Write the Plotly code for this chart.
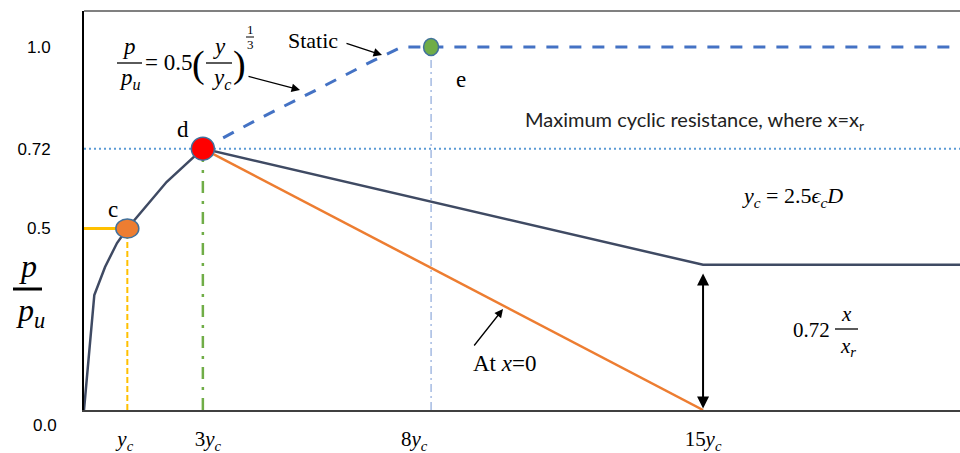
import plotly.graph_objects as go

# ---------------- data (x in units of y_c, y = p/p_u) ----------------
cyclic_x = [0.0, 0.25, 0.51, 0.80, 1.05, 2.0, 2.88, 15.0, 21.3]
cyclic_y = [0.0, 0.317, 0.394, 0.46, 0.50, 0.628, 0.72, 0.40, 0.40]

zero_x = [2.88, 15.0]
zero_y = [0.72, 0.0]

static_x = [2.88, 4.2, 5.6, 7.0, 7.7, 21.3]
static_y = [0.72, 0.80, 0.88, 0.962, 1.0, 1.0]

point_names = ["c", "d", "e"]
point_x = [1.05, 2.88, 8.41]
point_y = [0.50, 0.72, 1.00]

x_tick_vals = [1, 3, 8, 15]
x_tick_text = ["<i>y<sub>c</sub></i>", "3<i>y<sub>c</sub></i>",
               "8<i>y<sub>c</sub></i>", "15<i>y<sub>c</sub></i>"]
y_tick_vals = [0.5, 0.72, 1.0]
y_tick_text = ["0.5", "0.72", "1.0"]

# ---------------- layout geometry ----------------
W, H = 960, 453
ML, MR, MT, MB = 84, 0, 11, 43
PW, PH = W - ML - MR, H - MT - MB
XMAX = 21.226
YMAX = 1.0992

def px(p):  # pixel x -> paper
    return (p - ML) / PW

def py(p):  # pixel y -> paper
    return (H - MB - p) / PH

def dx(p):  # pixel x -> data
    return (p - ML) / PW * XMAX

def dy(p):  # pixel y -> data
    return (H - MB - p) / PH * YMAX

SERIF = "Liberation Serif"
SANS = "Liberation Sans"

fig = go.Figure()

# guide lines
fig.add_trace(go.Scatter(x=[0, XMAX], y=[point_y[1], point_y[1]], mode="lines",
                         line=dict(color="#5B9BD5", width=2, dash="2px,3px"),
                         hoverinfo="skip"))
fig.add_trace(go.Scatter(x=[0, point_x[0]], y=[point_y[0], point_y[0]], mode="lines",
                         line=dict(color="#FFC000", width=3), hoverinfo="skip"))
fig.add_trace(go.Scatter(x=[point_x[0], point_x[0]], y=[0, point_y[0]], mode="lines",
                         line=dict(color="#FFC000", width=2, dash="6px,3px"),
                         hoverinfo="skip"))
fig.add_trace(go.Scatter(x=[point_x[1], point_x[1]], y=[0, point_y[1]], mode="lines",
                         line=dict(color="#70AD47", width=2.5, dash="12px,8px,3px,8px"),
                         hoverinfo="skip"))
fig.add_trace(go.Scatter(x=[point_x[2], point_x[2]], y=[0, point_y[2]], mode="lines",
                         line=dict(color="#8EA9DB", width=1.2, dash="8px,4px,2px,4px"),
                         hoverinfo="skip"))

# curves
fig.add_trace(go.Scatter(x=static_x, y=static_y, mode="lines",
                         line=dict(color="#4472C4", width=3, dash="12px,11px"),
                         hoverinfo="skip"))
fig.add_trace(go.Scatter(x=zero_x, y=zero_y, mode="lines",
                         line=dict(color="#ED7D31", width=2.5), hoverinfo="skip"))
fig.add_trace(go.Scatter(x=cyclic_x, y=cyclic_y, mode="lines",
                         line=dict(color="#3F4A63", width=2.5), hoverinfo="skip"))

shapes = []
# marker ellipses anchored at the data points
sizes = [(23, 19), (23, 23), (15, 17)]
fills = ["#ED7D31", "#FF0000", "#70AD47"]
for (w, h), fc, xv, yv in zip(sizes, fills, point_x, point_y):
    shapes.append(dict(type="circle", xref="x", yref="y", xsizemode="pixel",
                       ysizemode="pixel", xanchor=xv, yanchor=yv,
                       x0=-w / 2, x1=w / 2, y0=-h / 2, y1=h / 2,
                       fillcolor=fc, line=dict(color="#41719C", width=1.5),
                       layer="above"))

# top frame line
shapes.append(dict(type="line", xref="paper", yref="paper", x0=0, x1=1, y0=1, y1=1,
                   line=dict(color="#808080", width=2)))

def frac_bar(x0, x1, y, w=1.3):
    shapes.append(dict(type="line", xref="paper", yref="paper",
                       x0=px(x0), x1=px(x1), y0=py(y), y1=py(y),
                       line=dict(color="black", width=w)))

ann = []

def text(t, x, y, size=20, family=SERIF, color="black", xanchor="center"):
    ann.append(dict(text=t, x=px(x), y=py(y), xref="paper", yref="paper",
                    showarrow=False, xanchor=xanchor, yanchor="middle",
                    font=dict(family=family, size=size, color=color)))

def arrow(hx, hy, tx, ty, width=1.3, both=False):
    d = dict(text="", x=dx(hx), y=dy(hy), ax=dx(tx), ay=dy(ty), xref="x", yref="y",
             axref="x", ayref="y", showarrow=True, arrowhead=2, arrowsize=1.3,
             arrowwidth=width, arrowcolor="black", standoff=0, startstandoff=0)
    if both:
        d.update(arrowside="end+start", startarrowhead=2, startarrowsize=1.3)
    ann.append(d)

# point labels
text("c", 113, 209, 23)
text("d", 183, 129, 23)
text("e", 461, 79, 23)

# y-axis title  p / p_u
text("<i>p</i>", 28, 266, 32)
frac_bar(13, 42, 289, 3)
text("<i>p<sub>u</sub></i>", 30, 312, 32)

# 0.0 label
text("0.0", 45, 425, 17, SANS)

# formula  p/p_u = 0.5 (y/y_c)^(1/3)
text("<i>p</i>", 129, 46, 23)
frac_bar(117, 142, 63)
text("<i>p<sub>u</sub></i>", 130, 79, 23)
text("= 0.5", 168, 62, 23)
text("(", 198, 64, 38)
text("<i>y</i>", 219, 46, 23)
frac_bar(206, 232, 63)
text("<i>y<sub>c</sub></i>", 221, 79, 23)
text(")", 239, 64, 38)
text("1", 250, 29, 13)
frac_bar(246, 254, 37, 1)
text("3", 250, 44, 13)

text("Static", 313, 40, 22)
arrow(382, 55, 345, 43)
arrow(300, 90, 247, 76)

text("Maximum cyclic resistance, where x=x<sub>r</sub>", 694, 120, 20, "Lato", "#222222")
text("<i>y<sub>c</sub></i> = 2.5<i>ϵ<sub>c</sub>D</i>", 792, 197, 22)

text("0.72", 811, 330, 21)
text("<i>x</i>", 846, 314, 21)
frac_bar(835, 858, 329)
text("<i>x<sub>r</sub></i>", 848, 347, 21)

text("At <i>x</i>=0", 504, 363, 23)
arrow(503, 309, 473, 347)

# double arrow at 15 y_c
ann.append(dict(text="", x=zero_x[1], y=0.004, ax=zero_x[1], ay=0.38, xref="x", yref="y",
                axref="x", ayref="y", showarrow=True, arrowhead=2, arrowsize=1.2,
                arrowwidth=2, arrowcolor="black", arrowside="end+start",
                startarrowhead=2, startarrowsize=1.2, standoff=0, startstandoff=0))

fig.update_layout(
    width=W, height=H, margin=dict(l=ML, r=MR, t=MT, b=MB),
    paper_bgcolor="white", plot_bgcolor="white", showlegend=False,
    shapes=shapes, annotations=ann,
    xaxis=dict(range=[0, XMAX], showgrid=False, zeroline=False, showline=True,
               linecolor="#404040", linewidth=2, ticks="", tickvals=x_tick_vals,
               ticktext=x_tick_text, tickfont=dict(family=SERIF, size=21, color="black"),
               ticklabelstandoff=9, fixedrange=True),
    yaxis=dict(range=[0, YMAX], showgrid=False, zeroline=False, showline=True,
               linecolor="black", linewidth=2, ticks="", tickvals=y_tick_vals,
               ticktext=y_tick_text, tickfont=dict(family=SANS, size=17, color="black"),
               ticklabelstandoff=28, fixedrange=True),
)

fig.write_html("out.html", config={"displayModeBar": False})
